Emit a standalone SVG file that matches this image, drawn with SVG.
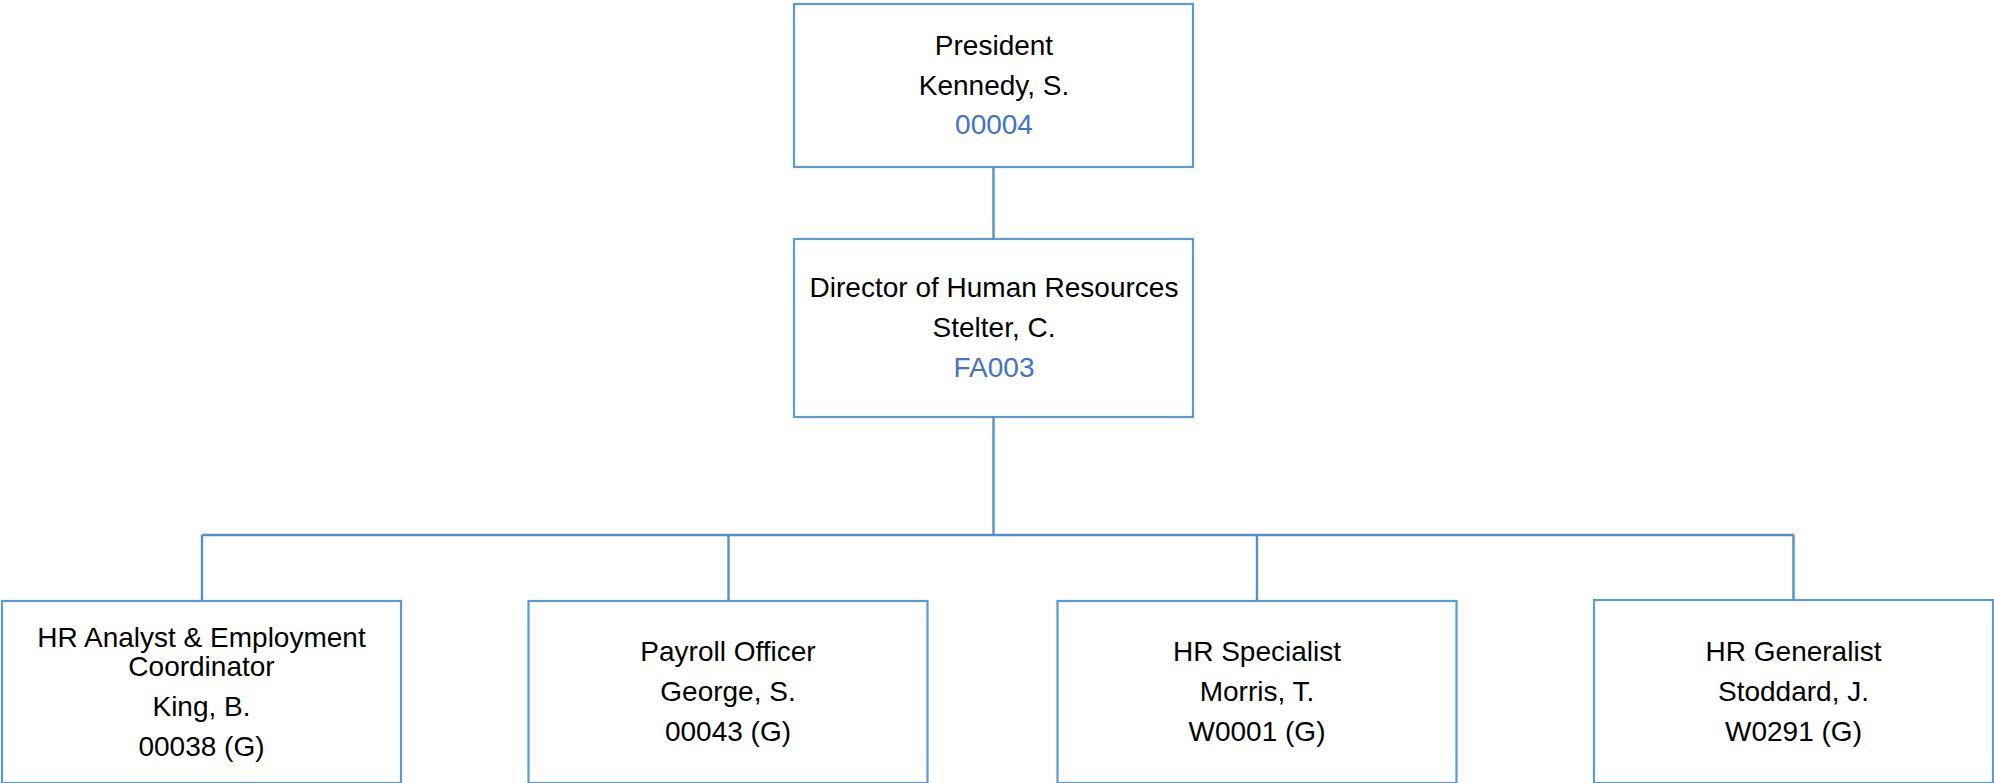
<svg xmlns="http://www.w3.org/2000/svg" width="1994" height="783" viewBox="0 0 1994 783">
<style>
.box{fill:#ffffff;stroke:#5b9bd5;stroke-width:2.2}
.conn{fill:none;stroke:#5590c8;stroke-width:2.4}
text{font-family:"Liberation Sans",Arial,sans-serif;font-size:28px;fill:#000000;text-anchor:middle}
text.id{fill:#4472c4}
</style>
<rect width="1994" height="783" fill="#ffffff"/>
<g id="connectors">
<line class="conn" x1="993.5" y1="167" x2="993.5" y2="239"/>
<line class="conn" x1="993.5" y1="417" x2="993.5" y2="535"/>
<line class="conn" x1="202" y1="535" x2="1794" y2="535"/>
<line class="conn" x1="202" y1="535" x2="202" y2="601"/>
<line class="conn" x1="728.5" y1="535" x2="728.5" y2="601"/>
<line class="conn" x1="1257" y1="535" x2="1257" y2="601"/>
<line class="conn" x1="1793.5" y1="535" x2="1793.5" y2="600"/>
</g>
<g id="president">
<rect class="box" x="794" y="4" width="399" height="163"/>
<text x="994" y="55">President</text>
<text x="994" y="95">Kennedy, S.</text>
<text class="id" x="994" y="134">00004</text>
</g>
<g id="director">
<rect class="box" x="794" y="239" width="399" height="178"/>
<text x="994" y="297">Director of Human Resources</text>
<text x="994" y="337">Stelter, C.</text>
<text class="id" x="994" y="377">FA003</text>
</g>
<g id="hr-analyst">
<rect class="box" x="2" y="601" width="399" height="182"/>
<text x="201.5" y="647">HR Analyst &amp; Employment</text>
<text x="201.5" y="676">Coordinator</text>
<text x="201.5" y="716">King, B.</text>
<text x="201.5" y="756">00038 (G)</text>
</g>
<g id="payroll-officer">
<rect class="box" x="528.5" y="601" width="399" height="182"/>
<text x="728" y="661">Payroll Officer</text>
<text x="728" y="701">George, S.</text>
<text x="728" y="741">00043 (G)</text>
</g>
<g id="hr-specialist">
<rect class="box" x="1057.5" y="601" width="399" height="182"/>
<text x="1257" y="661">HR Specialist</text>
<text x="1257" y="701">Morris, T.</text>
<text x="1257" y="741">W0001 (G)</text>
</g>
<g id="hr-generalist">
<rect class="box" x="1594" y="600" width="399" height="183"/>
<text x="1793.5" y="661">HR Generalist</text>
<text x="1793.5" y="701">Stoddard, J.</text>
<text x="1793.5" y="741">W0291 (G)</text>
</g>
</svg>
